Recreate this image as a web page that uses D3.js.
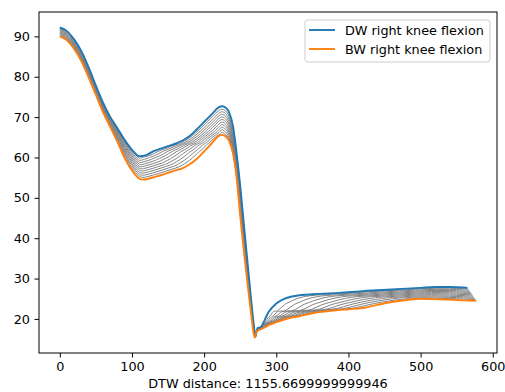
<!DOCTYPE html>
<html>
<head>
<meta charset="utf-8">
<script src="https://cdn.jsdelivr.net/npm/d3@7"></script>
<style>
  html, body { margin: 0; padding: 0; background: #fff; }
  svg { display: block; font-family: "DejaVu Sans", sans-serif; }
</style>
</head>
<body>
<svg id="chart" width="505" height="392"></svg>
<script>
// Right knee flexion angle (deg) per frame, two walking conditions
const dwFrames = [0, 10, 20, 30, 40, 50, 60, 70, 80, 90, 100, 110, 120, 130, 140, 150, 160, 170, 180, 190,
  200, 210, 220, 225, 230, 235, 240, 245, 250, 255, 260, 265, 268, 271, 274, 278, 282, 286, 290, 300,
  310, 320, 330, 340, 350, 360, 380, 400, 420, 440, 460, 480, 500, 520, 540, 560, 565];
const dwAngle = [92.2, 91.3, 89.2, 86.3, 82.3, 77.8, 73.5, 70.0, 67.2, 64.3, 61.9, 60.3, 60.6, 61.6, 62.2, 62.8, 63.4, 64.2, 65.3, 67.0,
  68.8, 70.6, 72.4, 72.7, 72.3, 71.0, 67.7, 61.0, 53.0, 43.5, 34.2, 25.0, 19.8, 15.6, 17.8, 17.9, 19.0, 20.6, 21.9, 23.8,
  24.9, 25.5, 25.8, 26.0, 26.1, 26.2, 26.4, 26.6, 26.9, 27.1, 27.3, 27.5, 27.7, 27.9, 27.9, 27.8, 27.7];

const bwFrames = [0, 10, 20, 30, 40, 50, 60, 70, 80, 90, 100, 110, 115, 120, 130, 140, 150, 160, 170, 180,
  190, 200, 210, 220, 225, 230, 235, 240, 245, 250, 255, 260, 265, 270, 273, 278, 285, 290, 300, 310,
  320, 330, 340, 350, 360, 370, 380, 400, 420, 440, 460, 480, 500, 520, 540, 560, 577];
const bwAngle = [90.0, 89.0, 86.8, 83.8, 79.8, 75.5, 71.2, 67.5, 63.8, 59.8, 56.8, 54.8, 54.5, 54.6, 55.1, 55.6, 56.2, 56.8, 57.3, 58.3,
  59.7, 61.5, 63.4, 65.3, 65.6, 65.2, 64.0, 61.0, 55.0, 45.5, 37.0, 29.0, 21.5, 15.4, 17.0, 17.4, 18.0, 18.5, 19.2, 19.8,
  20.3, 20.6, 21.0, 21.4, 21.7, 21.9, 22.1, 22.4, 22.7, 23.5, 24.2, 24.7, 25.0, 24.9, 24.8, 24.6, 24.5];

const xTicks = [0, 100, 200, 300, 400, 500, 600];
const yTicks = [20, 30, 40, 50, 60, 70, 80, 90];
const seriesNames = ["DW right knee flexion", "BW right knee flexion"];
const seriesColors = ["#1f77b4", "#ff7f0e"];
const xLabel = "DTW distance: 1155.6699999999946";

const fontSize = "12.8px";

const dw = dwFrames.map((f, i) => [f, dwAngle[i]]);
const bw = bwFrames.map((f, i) => [f, bwAngle[i]]);

// Dynamic time warping between the two curves (absolute difference cost)
function dtwPath(a, b) {
  const n = a.length, m = b.length;
  const D = Array.from({length: n + 1}, () => new Float64Array(m + 1).fill(Infinity));
  D[0][0] = 0;
  for (let i = 1; i <= n; i++) {
    for (let j = 1; j <= m; j++) {
      const c = Math.abs(a[i - 1][1] - b[j - 1][1]);
      D[i][j] = c + Math.min(D[i - 1][j], D[i][j - 1], D[i - 1][j - 1]);
    }
  }
  const path = [];
  let i = n, j = m;
  while (i > 0 && j > 0) {
    path.push([i - 1, j - 1]);
    const d = D[i - 1][j - 1], u = D[i - 1][j], l = D[i][j - 1];
    if (d <= u && d <= l) { i--; j--; }
    else if (u <= l) { i--; }
    else { j--; }
  }
  return path.reverse();
}
const warpPath = dtwPath(dw, bw);

// Plot geometry
const svg = d3.select("#chart");
const mLeft = 39, mRight = 497, mTop = 12, mBottom = 353;

function padded(ext) {
  const p = (ext[1] - ext[0]) * 0.05;
  return [ext[0] - p, ext[1] + p];
}
const allX = dwFrames.concat(bwFrames);
const allY = dwAngle.concat(bwAngle);
const x = d3.scaleLinear().domain(padded(d3.extent(allX))).range([mLeft, mRight]);
const y = d3.scaleLinear().domain(padded(d3.extent(allY))).range([mBottom, mTop]);

const plot = svg.append("g");

// Intermediate curves along the warping path
const fractions = d3.range(1, 11).map(k => k / 11);
const interpLine = d3.line().x(d => x(d[0])).y(d => y(d[1])).curve(d3.curveBasis);
fractions.forEach(t => {
  const pts = warpPath.map(([i, j]) => [
    (1 - t) * dw[i][0] + t * bw[j][0],
    (1 - t) * dw[i][1] + t * bw[j][1]
  ]);
  plot.append("path")
    .attr("d", interpLine(pts))
    .attr("fill", "none")
    .attr("stroke", "#808080")
    .attr("stroke-width", 1);
});

// Main curves
const line = d3.line().x(d => x(d[0])).y(d => y(d[1])).curve(d3.curveMonotoneX);
[dw, bw].forEach((s, k) => {
  plot.append("path")
    .attr("d", line(s))
    .attr("fill", "none")
    .attr("stroke", seriesColors[k])
    .attr("stroke-width", 1.9)
    .attr("stroke-linejoin", "round");
});

// Axes
const xAxis = d3.axisBottom(x).tickValues(xTicks).tickSize(4.5).tickPadding(4);
const yAxis = d3.axisLeft(y).tickValues(yTicks).tickSize(4.5).tickPadding(4.5);

const gx = svg.append("g").attr("transform", `translate(0,${mBottom})`).call(xAxis);
const gy = svg.append("g").attr("transform", `translate(${mLeft},0)`).call(yAxis);
[gx, gy].forEach(g => {
  g.select(".domain").remove();
  g.selectAll(".tick line").attr("stroke", "#000").attr("stroke-width", 1);
  g.selectAll(".tick text").attr("fill", "#000").style("font-size", fontSize)
    .style("font-family", "'DejaVu Sans', sans-serif");
});

// Frame
svg.append("rect")
  .attr("x", mLeft).attr("y", mTop)
  .attr("width", mRight - mLeft).attr("height", mBottom - mTop)
  .attr("fill", "none").attr("stroke", "#000").attr("stroke-width", 1);

// X label
svg.append("text")
  .attr("x", (mLeft + mRight) / 2).attr("y", 388)
  .attr("text-anchor", "middle")
  .style("font-size", fontSize)
  .attr("fill", "#000")
  .text(xLabel);

// Legend
const lg = svg.append("g");
lg.append("rect")
  .attr("x", 305).attr("y", 20).attr("width", 185).attr("height", 42)
  .attr("rx", 2.5)
  .attr("fill", "#fff").attr("fill-opacity", 0.8)
  .attr("stroke", "#cccccc").attr("stroke-width", 1);
seriesNames.forEach((name, k) => {
  const yy = 30 + k * 19;
  lg.append("line")
    .attr("x1", 309).attr("x2", 335).attr("y1", yy).attr("y2", yy)
    .attr("stroke", seriesColors[k]).attr("stroke-width", 1.9);
  lg.append("text")
    .attr("x", 345).attr("y", yy + 4.5)
    .style("font-size", fontSize)
    .attr("fill", "#000")
    .text(name);
});
</script>
</body>
</html>
